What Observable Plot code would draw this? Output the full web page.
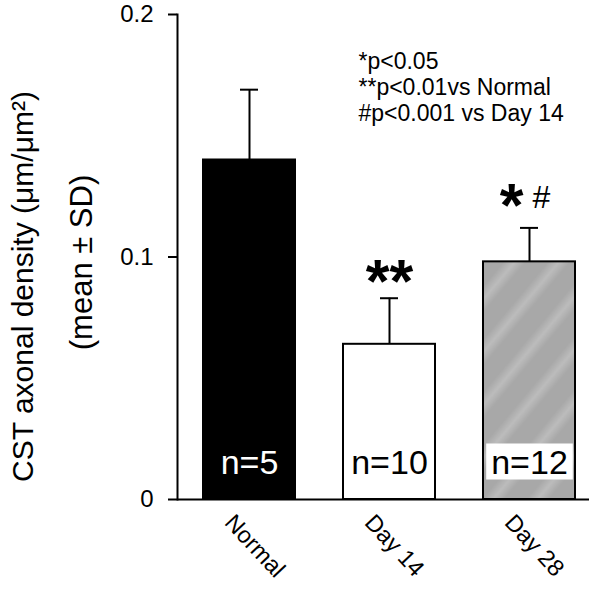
<!DOCTYPE html>
<html><head><meta charset="utf-8">
<script src="https://cdn.jsdelivr.net/npm/d3@7"></script>
<script src="https://cdn.jsdelivr.net/npm/@observablehq/plot@0.6"></script>
<style>body{margin:0;background:#fff} svg{display:block}</style>
</head><body><div id="chart"></div>
<script>
const groups = ["Normal", "Day 14", "Day 28"];
const means = [0.140, 0.064, 0.098];
const sds = [0.029, 0.019, 0.014];
const ns = [5, 10, 12];
const stars = ["", "**", "*"];
const hashes = ["", "", "#"];
const yTicks = [0, 0.1, 0.2];
const yTickLabels = ["0", "0.1", "0.2"];
const yTitle = "CST axonal density (μm/μm²)";
const ySubtitle = "(mean ± SD)";
const noteLines = ["*p<0.05", "**p<0.01vs Normal", "#p<0.001 vs Day 14"];

const data = groups.map((g, i) => ({group: g, mean: means[i], top: means[i] + sds[i], n: "n=" + ns[i], star: stars[i], hash: hashes[i]}));
const font = "'Liberation Sans', Arial, Helvetica, sans-serif";

const chart = Plot.plot({
  width: 601, height: 594, marginLeft: 177, marginRight: 12, marginTop: 14, marginBottom: 95,
  style: {fontFamily: font, background: "white", color: "black"},
  x: {domain: groups, paddingInner: 0.34, paddingOuter: 0.131, align: 0.65, axis: null},
  y: {domain: [0, 0.2], axis: null},
  color: {type: "ordinal", domain: groups, range: ["#000000", "#ffffff", "url(#hatch28)"]},
  marks: [
    Plot.barY(data, {x: "group", y: "mean", fill: "group", stroke: "black", strokeWidth: 2}),
    Plot.ruleX(data, {x: "group", y1: "mean", y2: "top", stroke: "black", strokeWidth: 2}),
    Plot.tickY(data, {x: "group", y: "top", stroke: "black", strokeWidth: 2, insetLeft: 37, insetRight: 37}),
    Plot.ruleY([0], {stroke: "black", strokeWidth: 2}),
    Plot.frame({anchor: "left", stroke: "black", strokeWidth: 2}),
    Plot.axisY({ticks: yTicks, tickFormat: d => yTickLabels[yTicks.indexOf(d)], tickSize: 9, tickPadding: 15, fontSize: 24, strokeWidth: 2, label: null}),
    Plot.text(groups, {x: d => d, text: d => d, frameAnchor: "bottom", rotate: 47, textAnchor: "start", dx: -26, dy: 24, fontSize: 23.5}),
    Plot.text([yTitle], {text: d => d, frameAnchor: "left", textAnchor: "middle", rotate: -90, dx: -154, dy: 29.5, fontSize: 30}),
    Plot.text([ySubtitle], {text: d => d, frameAnchor: "left", textAnchor: "middle", rotate: -90, dx: -95, dy: 5.5, fontSize: 31}),
    Plot.text([noteLines.join("\n")], {text: d => d, frameAnchor: "top-left", textAnchor: "start", lineAnchor: "top", lineHeight: 1.13, dx: 181, dy: 36, fontSize: 23}),
    Plot.text(data, {filter: d => d.group === "Normal", x: "group", text: "n", frameAnchor: "bottom", dy: -26, fontSize: 34, fill: "white"}),
    Plot.text(data, {filter: d => d.group !== "Normal", x: "group", text: "n", frameAnchor: "bottom", dy: -26, fontSize: 34, fill: "black"}),
    Plot.text(data, {filter: d => d.star && !d.hash, x: "group", y: "top", text: "star", dy: -16, fontSize: 61, fontWeight: "bold"}),
    Plot.text(data, {filter: d => d.star && d.hash, x: "group", y: "top", text: "star", dx: -18, dy: -21, fontSize: 61, fontWeight: "bold"}),
    Plot.text(data, {filter: d => d.hash, x: "group", y: "top", text: "hash", dx: 12, dy: -30, fontSize: 32})
  ]
});
document.getElementById("chart").append(chart);

const NS = "http://www.w3.org/2000/svg";
const defs = document.createElementNS(NS, "defs");
defs.innerHTML = '<linearGradient id="stripeGrad" x1="0" x2="1" y1="0" y2="0">' +
  '<stop offset="0" stop-color="#a8a8a8"/><stop offset="0.3" stop-color="#a8a8a8"/>' +
  '<stop offset="0.55" stop-color="#bcbcbc"/><stop offset="0.8" stop-color="#a8a8a8"/><stop offset="1" stop-color="#a8a8a8"/></linearGradient>' +
  '<pattern id="hatch28" patternUnits="userSpaceOnUse" width="34" height="34" patternTransform="rotate(40)">' +
  '<rect width="34" height="34" fill="url(#stripeGrad)"/></pattern>';
chart.insertBefore(defs, chart.firstChild);

const boxed = data.filter(d => d.group !== "Normal").map(d => d.n);
chart.querySelectorAll("text").forEach(t => {
  if (!boxed.includes(t.textContent)) return;
  const b = t.getBBox();
  const r = document.createElementNS(NS, "rect");
  r.setAttribute("x", b.x - 5);
  r.setAttribute("y", b.y + 1);
  r.setAttribute("width", b.width + 10);
  r.setAttribute("height", b.height - 2);
  r.setAttribute("fill", "white");
  const tr = t.getAttribute("transform");
  if (tr) r.setAttribute("transform", tr);
  t.parentNode.insertBefore(r, t);
});
</script>
</body></html>
